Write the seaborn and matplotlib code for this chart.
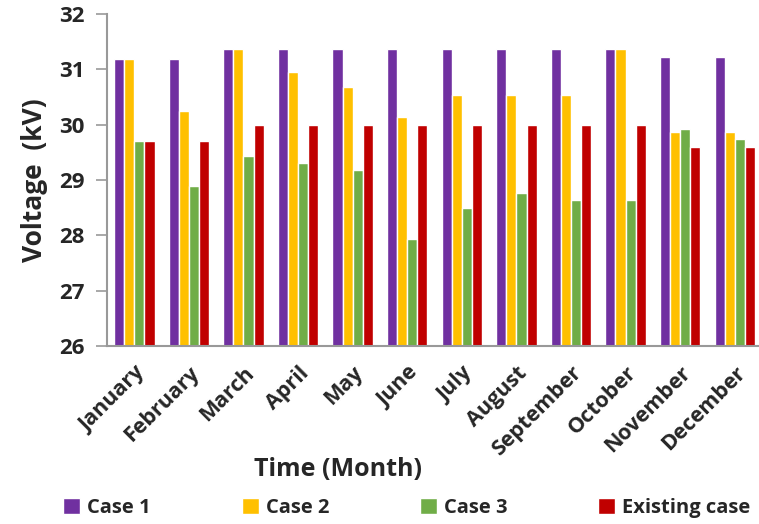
import numpy as np
import pandas as pd
import seaborn as sns
from matplotlib import pyplot as plt
from matplotlib.patches import Patch

months = ["January", "February", "March", "April", "May", "June", "July",
          "August", "September", "October", "November", "December"]
case1 = [31.19, 31.19, 31.36, 31.36, 31.36, 31.36, 31.36, 31.36, 31.36, 31.36, 31.22, 31.22]
case2 = [31.19, 30.25, 31.36, 30.95, 30.68, 30.14, 30.53, 30.53, 30.53, 31.36, 29.86, 29.86]
case3 = [29.70, 28.89, 29.44, 29.31, 29.17, 27.94, 28.49, 28.77, 28.63, 28.63, 29.92, 29.74]
existing = [29.70, 29.70, 30.00, 30.00, 30.00, 30.00, 30.00, 30.00, 30.00, 30.00, 29.59, 29.59]

cases = ["Case 1", "Case 2", "Case 3", "Existing case"]
colors = ["#7030A0", "#FFC000", "#70AD47", "#C00000"]

# long form table for seaborn
df = pd.DataFrame({
    "month": months * 4,
    "voltage": case1 + case2 + case3 + existing,
    "case": np.repeat(cases, len(months)),
})

sns.set_style("white")
plt.rcParams["font.family"] = ["Open Sans", "DejaVu Sans"]
plt.rcParams["font.weight"] = "bold"

fig = plt.figure(figsize=(7.59, 5.24), dpi=100)
ax = fig.add_axes([0.141, 0.340, 0.863, 0.6335])

sns.barplot(data=df, x="month", y="voltage", hue="case", palette=colors,
            width=0.74, saturation=1, ax=ax, legend=False)

ax.set_ylim(26, 32)
ax.set_xlim(-0.5, 11.5)
ax.set_xticks(np.arange(len(months)))
ax.set_xticklabels(months, rotation=45, ha="right", rotation_mode="anchor",
                   fontsize=15.5, fontweight="bold")
ax.set_yticks(range(26, 33))
ax.set_yticklabels([str(v) for v in range(26, 33)], fontsize=16, fontweight="bold")

# category boundary ticks on the x axis
ax.set_xticks(np.arange(-0.5, 12, 1), minor=True)
ax.tick_params(axis="x", which="major", length=0, pad=12)
ax.tick_params(axis="x", which="minor", length=7, color="#999999", width=1.2)
ax.tick_params(axis="y", length=8, color="#999999", width=1.2, pad=8, left=True)

for s in ["top", "right"]:
    ax.spines[s].set_visible(False)
for s in ["left", "bottom"]:
    ax.spines[s].set_color("#999999")
    ax.spines[s].set_linewidth(1.5)

ax.set_xlabel("")
ax.set_ylabel("Voltage  (kV)", fontsize=19, fontweight="bold", labelpad=8)
fig.text(338 / 759, 1 - 470 / 524, "Time (Month)", fontsize=18, fontweight="bold",
         ha="center", va="center")

# one legend entry per slot, evenly spaced like the original
legend_x = [63, 242, 420, 598]
for c, l, x in zip(colors, cases, legend_x):
    fig.legend(handles=[Patch(facecolor=c, label=l)], loc="center left",
               bbox_to_anchor=(x / 759, 1 - 508 / 524), frameon=False,
               prop={"size": 14.5, "weight": "bold"}, handlelength=0.85,
               handleheight=0.85, handletextpad=0.35, borderpad=0, borderaxespad=0)

fig.savefig("out.png", dpi=100)
